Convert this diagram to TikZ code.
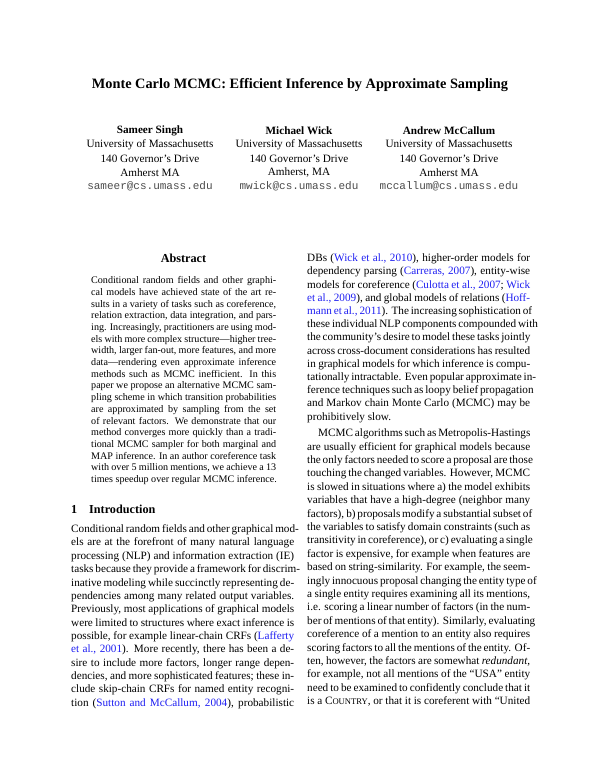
\documentclass[tikz,border=0pt]{standalone}
\usepackage{fontspec}
\setmainfont{Liberation Serif}
\setmonofont{Liberation Mono}
\definecolor{cite}{rgb}{0.12,0.12,0.95}
\definecolor{mail}{rgb}{0.3,0.3,0.3}
\newcommand\C[1]{\textcolor{cite}{#1}}
\newcommand\Sc[1]{{\fontsize{8.6}{10}\selectfont #1}}
\newcommand\bodyf{\fontsize{11.2}{13}\selectfont}
\newcommand\absf{\fontsize{10.1}{12}\selectfont}
% justified line: x, y(center), width, text
\newcommand\J[4]{\node[anchor=base west,inner sep=0pt] at (#1,#2+3.6) {\makebox[#3pt][s]{#4}};}
\newcommand\Lf[2]{\node[anchor=base west,inner sep=0pt] at (#1,#2+3.6) {#2};}
\newcommand\LL[3]{\node[anchor=base west,inner sep=0pt] at (#1,#2+3.6) {#3};}
\begin{document}
\begin{tikzpicture}[x=1pt,y=-1pt]
\useasboundingbox[fill=white] (0,0) rectangle (600,776);
% title
\node[font=\fontsize{14.3}{16}\selectfont\bfseries] (title) at (300,85) {Monte Carlo MCMC: Efficient Inference by Approximate Sampling};
% authors
\foreach \x/\n/\c/\e [count=\i] in {150/Sameer Singh/Amherst MA/sameer@cs.umass.edu,299/Michael Wick/{Amherst, MA}/mwick@cs.umass.edu,449/Andrew McCallum/Amherst MA/mccallum@cs.umass.edu}{
 \node[font=\bodyf\bfseries] (au\i) at (\x,131) {\n};
 \node[font=\bodyf] at (\x,145) {University of Massachusetts};
 \node[font=\bodyf] at (\x,159) {140 Governor’s Drive};
 \node[font=\bodyf] at (\x,172.5) {\c};
 \node[font=\fontsize{11}{13}\selectfont\ttfamily,text=mail] at (\x,186) {\e};
}
% abstract
\node[font=\fontsize{12.2}{14}\selectfont\bfseries] (abs) at (183.5,258) {Abstract};
\begin{scope}[font=\absf]
\def\ax{91}\def\aw{185}
\J{\ax}{280}{\aw}{Conditional random fields and other graphi-}
\J{\ax}{291.7}{\aw}{cal models have achieved state of the art re-}
\J{\ax}{303.4}{\aw}{sults in a variety of tasks such as coreference,}
\J{\ax}{315.1}{\aw}{relation extraction, data integration, and pars-}
\J{\ax}{326.8}{\aw}{ing. Increasingly, practitioners are using mod-}
\J{\ax}{338.5}{\aw}{els with more complex structure—higher tree-}
\J{\ax}{350.2}{\aw}{width, larger fan-out, more features, and more}
\J{\ax}{361.9}{\aw}{data—rendering even approximate inference}
\J{\ax}{373.6}{\aw}{methods such as MCMC inefficient. In this}
\J{\ax}{385.3}{\aw}{paper we propose an alternative MCMC sam-}
\J{\ax}{397.0}{\aw}{pling scheme in which transition probabilities}
\J{\ax}{408.7}{\aw}{are approximated by sampling from the set}
\J{\ax}{420.4}{\aw}{of relevant factors. We demonstrate that our}
\J{\ax}{432.1}{\aw}{method converges more quickly than a tradi-}
\J{\ax}{443.8}{\aw}{tional MCMC sampler for both marginal and}
\J{\ax}{455.5}{\aw}{MAP inference. In an author coreference task}
\J{\ax}{467.2}{\aw}{with over 5 million mentions, we achieve a 13}
\LL{\ax}{478.9}{times speedup over regular MCMC inference.}
\end{scope}
% section
\node[font=\fontsize{12.2}{14}\selectfont\bfseries,anchor=base west,inner sep=0pt] (sec) at (71,513) {1};
\node[font=\fontsize{12.2}{14}\selectfont\bfseries,anchor=base west,inner sep=0pt] (sect) at (89,513) {Introduction};
\begin{scope}[font=\bodyf]
\def\lx{71}\def\cw{223}
\J{\lx}{529}{\cw}{Conditional random fields and other graphical mod-}
\J{\lx}{542.35}{\cw}{els are at the forefront of many natural language}
\J{\lx}{555.7}{\cw}{processing (NLP) and information extraction (IE)}
\J{\lx}{569.05}{\cw}{tasks because they provide a framework for discrim-}
\J{\lx}{582.4}{\cw}{inative modeling while succinctly representing de-}
\J{\lx}{595.75}{\cw}{pendencies among many related output variables.}
\J{\lx}{609.1}{\cw}{Previously, most applications of graphical models}
\J{\lx}{622.45}{\cw}{were limited to structures where exact inference is}
\J{\lx}{635.8}{\cw}{possible, for example linear-chain CRFs (\C{Lafferty}}
\J{\lx}{649.15}{\cw}{\C{et al., 2001}). More recently, there has been a de-}
\J{\lx}{662.5}{\cw}{sire to include more factors, longer range depen-}
\J{\lx}{675.85}{\cw}{dencies, and more sophisticated features; these in-}
\J{\lx}{689.2}{\cw}{clude skip-chain CRFs for named entity recogni-}
\J{\lx}{702.55}{\cw}{tion (\C{Sutton and McCallum, 2004}), probabilistic}
% right column
\def\rx{307}
\J{\rx}{258}{\cw}{DBs (\C{Wick et al., 2010}), higher-order models for}
\J{\rx}{271.2}{\cw}{dependency parsing (\C{Carreras, 2007}), entity-wise}
\J{\rx}{284.4}{\cw}{models for coreference (\C{Culotta et al., 2007}; \C{Wick}}
\J{\rx}{297.6}{\cw}{\C{et al., 2009}), and global models of relations (\C{Hoff-}}
\J{\rx}{310.8}{\cw}{\C{mann et al., 2011}). The increasing sophistication of}
\J{\rx}{324.0}{\cw}{these individual NLP components compounded with}
\J{\rx}{337.2}{\cw}{the community’s desire to model these tasks jointly}
\J{\rx}{350.4}{\cw}{across cross-document considerations has resulted}
\J{\rx}{363.6}{\cw}{in graphical models for which inference is compu-}
\J{\rx}{376.8}{\cw}{tationally intractable. Even popular approximate in-}
\J{\rx}{390.0}{\cw}{ference techniques such as loopy belief propagation}
\J{\rx}{403.2}{\cw}{and Markov chain Monte Carlo (MCMC) may be}
\LL{\rx}{416.4}{prohibitively slow.}
\J{318}{433}{212}{MCMC algorithms such as Metropolis-Hastings}
\J{\rx}{446.4}{\cw}{are usually efficient for graphical models because}
\J{\rx}{459.8}{\cw}{the only factors needed to score a proposal are those}
\J{\rx}{473.2}{\cw}{touching the changed variables. However, MCMC}
\J{\rx}{486.6}{\cw}{is slowed in situations where a) the model exhibits}
\J{\rx}{500.0}{\cw}{variables that have a high-degree (neighbor many}
\J{\rx}{513.4}{\cw}{factors), b) proposals modify a substantial subset of}
\J{\rx}{526.8}{\cw}{the variables to satisfy domain constraints (such as}
\J{\rx}{540.2}{\cw}{transitivity in coreference), or c) evaluating a single}
\J{\rx}{553.6}{\cw}{factor is expensive, for example when features are}
\J{\rx}{567.0}{\cw}{based on string-similarity. For example, the seem-}
\J{\rx}{580.4}{\cw}{ingly innocuous proposal changing the entity type of}
\J{\rx}{593.8}{\cw}{a single entity requires examining all its mentions,}
\J{\rx}{607.2}{\cw}{i.e. scoring a linear number of factors (in the num-}
\J{\rx}{620.6}{\cw}{ber of mentions of that entity). Similarly, evaluating}
\J{\rx}{634.0}{\cw}{coreference of a mention to an entity also requires}
\J{\rx}{647.4}{\cw}{scoring factors to all the mentions of the entity. Of-}
\J{\rx}{660.8}{\cw}{ten, however, the factors are somewhat \textit{redundant},}
\J{\rx}{674.2}{\cw}{for example, not all mentions of the “USA” entity}
\J{\rx}{687.6}{\cw}{need to be examined to confidently conclude that it}
\J{\rx}{701.0}{\cw}{is a C\Sc{OUNTRY}, or that it is coreferent with “United}
\end{scope}
\end{tikzpicture}
\end{document}
